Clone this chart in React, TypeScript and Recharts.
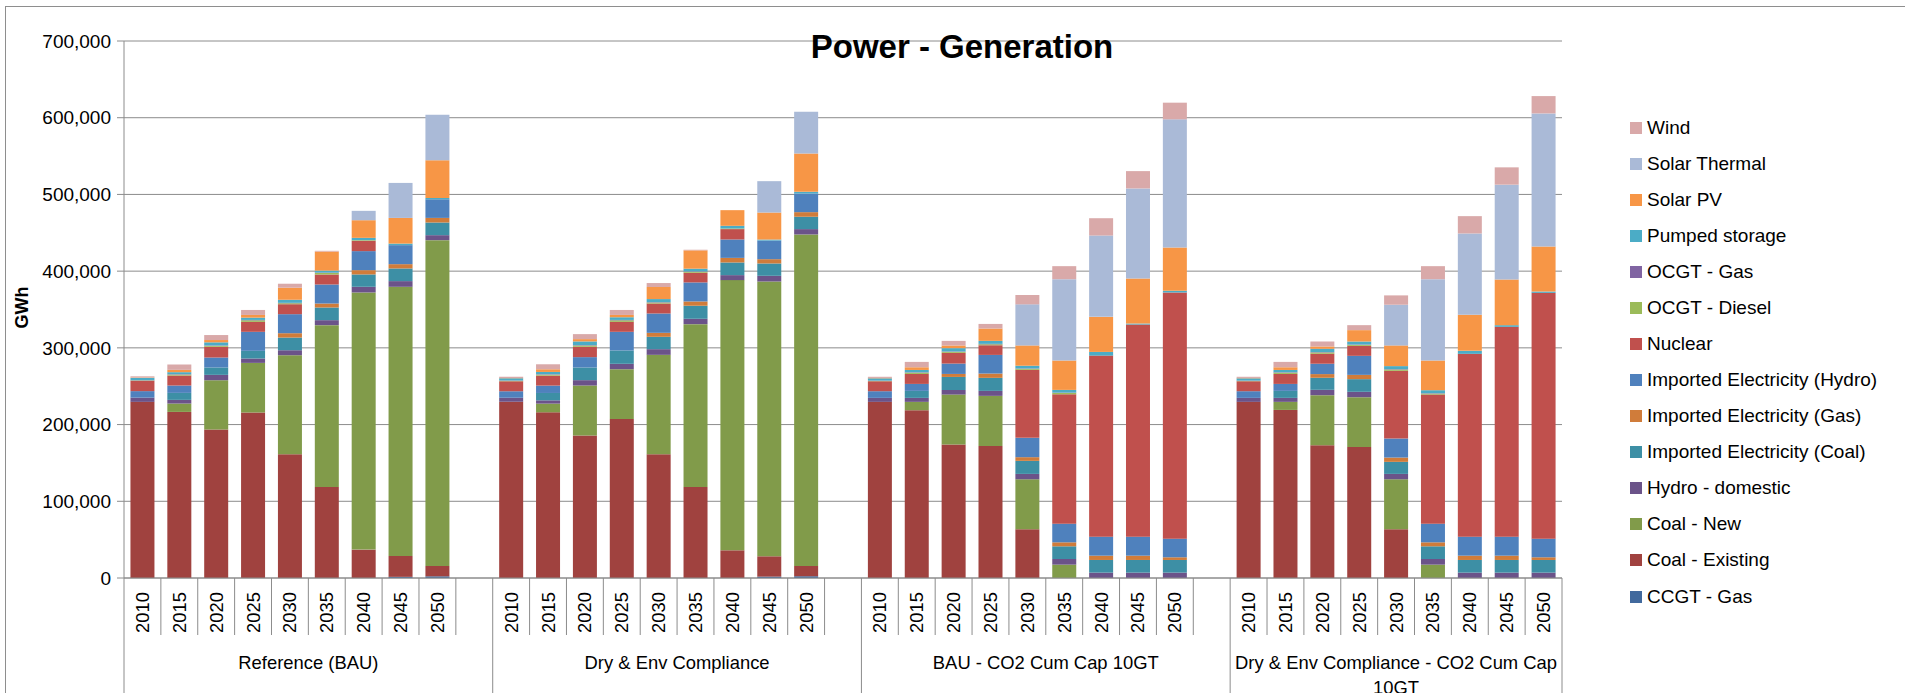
import { BarChart, Bar, XAxis, YAxis, CartesianGrid } from 'recharts';

const years = ['2010', '2015', '2020', '2025', '2030', '2035', '2040', '2045', '2050'];

const scenarioLabels = [
  ['Reference (BAU)'],
  ['Dry & Env Compliance'],
  ['BAU - CO2 Cum Cap 10GT'],
  ['Dry & Env Compliance - CO2 Cum Cap', '10GT'],
];

// stacking order, bottom to top
const seriesNames = [
  'CCGT - Gas',
  'Coal - Existing',
  'Coal - New',
  'Hydro - domestic',
  'Imported Electricity (Coal)',
  'Imported Electricity (Gas)',
  'Imported Electricity (Hydro)',
  'Nuclear',
  'OCGT - Diesel',
  'OCGT - Gas',
  'Pumped storage',
  'Solar PV',
  'Solar Thermal',
  'Wind',
];

const seriesColors = [
  '#41699d', '#a0423f', '#819b4a', '#6b5389', '#3d8fa5', '#d07c3a', '#4f81bd',
  '#c0504d', '#9bbb59', '#8064a2', '#4bacc6', '#f79646', '#aabad7', '#d9a9a9',
];

// GWh, 9 years per scenario: Reference, Dry & Env, BAU CO2 cap, Dry & Env CO2 cap
const ccgtGas = [
  0, 0, 0, 0, 0, 0, 0, 1500, 2200,
  0, 0, 0, 0, 0, 0, 0, 1800, 2300,
  0, 0, 0, 0, 0, 0, 0, 0, 0,
  0, 0, 0, 0, 0, 0, 0, 0, 0,
];
const coalExisting = [
  229600, 216500, 193500, 215700, 161300, 118700, 37000, 27200, 13500,
  229600, 216000, 185700, 207400, 161300, 118700, 36100, 26500, 13400,
  229600, 218700, 173900, 172200, 63500, 0, 0, 0, 0,
  229600, 219100, 173000, 170900, 63500, 0, 0, 0, 0,
];
const coalNew = [
  0, 10900, 64300, 64700, 129100, 210900, 335200, 350900, 424700,
  0, 11300, 65200, 64800, 129600, 212200, 352200, 358200, 432100,
  0, 10900, 65200, 65200, 65200, 17400, 0, 0, 0,
  0, 10500, 65300, 64800, 65200, 17400, 0, 0, 0,
];
const hydroDomestic = [
  5500, 4800, 7000, 5700, 6500, 6500, 7400, 7400, 6500,
  5200, 4300, 7000, 7000, 7400, 7000, 6500, 7400, 7000,
  5200, 5200, 6000, 6500, 7000, 7400, 7000, 7000, 7000,
  5200, 5200, 7000, 7000, 7000, 7400, 7000, 7000, 7000,
];
const importedCoal = [
  0, 9100, 9600, 10000, 16500, 16500, 16100, 16500, 16500,
  0, 9600, 16500, 17400, 16100, 17000, 16500, 16100, 16100,
  0, 9100, 17000, 17000, 17000, 16500, 16500, 16500, 16500,
  0, 9100, 15700, 16500, 15700, 16500, 16500, 16500, 16500,
];
const importedGas = [
  0, 0, 0, 0, 5700, 5200, 5600, 5600, 6000,
  0, 0, 0, 0, 5200, 5600, 6000, 5600, 6000,
  0, 0, 3900, 5600, 4800, 5200, 5600, 5600, 3500,
  0, 0, 4800, 5600, 5600, 5200, 5600, 5600, 3500,
];
const importedHydro = [
  8500, 9600, 13000, 24800, 24800, 24800, 24800, 24800, 24300,
  8700, 9600, 13500, 24300, 25200, 24800, 24000, 24300, 24300,
  8700, 9100, 13500, 24300, 25200, 24300, 24800, 24800, 24300,
  8700, 9100, 13500, 24800, 24800, 24300, 24800, 24800, 24300,
];
const nuclear = [
  13500, 13000, 14000, 13000, 13000, 13000, 13500, 0, 0,
  13000, 13000, 13500, 13000, 13000, 12600, 13500, 0, 0,
  13000, 13000, 14000, 12600, 88700, 168700, 236000, 276500, 320900,
  13000, 13000, 13000, 13000, 88300, 168300, 238300, 273500, 320400,
];
const ocgtDiesel = [
  500, 1300, 1300, 2000, 1300, 2000, 800, 0, 0,
  500, 1300, 1700, 2000, 1300, 1300, 800, 0, 0,
  500, 1700, 1300, 1300, 1300, 1700, 0, 0, 0,
  500, 1700, 1700, 1300, 1700, 1300, 0, 0, 0,
];
const ocgtGas = [
  300, 500, 500, 500, 500, 500, 0, 0, 0,
  300, 500, 500, 500, 500, 500, 0, 0, 0,
  300, 500, 500, 500, 500, 500, 0, 0, 0,
  300, 500, 500, 500, 500, 500, 0, 0, 0,
];
const pumpedStorage = [
  3000, 2600, 4000, 3000, 4000, 2600, 3000, 2000, 1700,
  3000, 3000, 4800, 3500, 4000, 3500, 3500, 1300, 2200,
  3000, 3000, 4300, 3900, 3500, 3500, 4800, 1300, 2200,
  3000, 3000, 4300, 3900, 3900, 3900, 3900, 2200, 1700,
];
const solarPV = [
  500, 3000, 3000, 3500, 15700, 24800, 23000, 33500, 49000,
  500, 3500, 3000, 3000, 15700, 23900, 20400, 35200, 50000,
  500, 3500, 3500, 16100, 26500, 38300, 45700, 58700, 56500,
  500, 3500, 3000, 14800, 27000, 38700, 47000, 59600, 58700,
];
const solarThermal = [
  0, 0, 0, 0, 0, 0, 12200, 45600, 59600,
  0, 0, 0, 0, 0, 0, 0, 40900, 54300,
  0, 0, 0, 0, 53500, 106000, 106000, 117400, 167000,
  0, 0, 0, 0, 53000, 106000, 106000, 123500, 173500,
];
const wind = [
  1500, 7000, 6500, 6500, 5200, 1000, 0, 0, 0,
  1500, 6500, 6500, 6500, 5200, 800, 0, 0, 0,
  1500, 7000, 6000, 6000, 12200, 17000, 22600, 22600, 21700,
  1500, 7000, 6500, 6500, 12200, 17000, 22600, 22600, 22600,
];

const seriesValues = [
  ccgtGas, coalExisting, coalNew, hydroDomestic, importedCoal, importedGas, importedHydro,
  nuclear, ocgtDiesel, ocgtGas, pumpedStorage, solarPV, solarThermal, wind,
];

const yTicks = [0, 100000, 200000, 300000, 400000, 500000, 600000, 700000];

type Row = { key: string; year: string; group: number; first: boolean; [k: string]: any };

const rows: Row[] = [];
scenarioLabels.forEach((_, g) => {
  years.forEach((yr, i) => {
    const row: Row = { key: `${g}-${yr}`, year: yr, group: g, first: i === 0 };
    seriesNames.forEach((name, s) => {
      row[name] = seriesValues[s][g * years.length + i];
    });
    rows.push(row);
  });
  // empty slot between scenarios
  if (g < scenarioLabels.length - 1) rows.push({ key: `${g}-gap`, year: '', group: g, first: false });
});

const rowByKey: Record<string, Row> = {};
rows.forEach((r) => (rowByKey[r.key] = r));

const FONT = "'Liberation Sans', Arial, sans-serif";
const GREY = '#8c8c8c';

function CategoryTick(props: any) {
  const { x, y, payload } = props;
  const row = rowByKey[payload.value];
  if (!row) return null;
  const half = payload.offset || 18.4;
  const left = x - half;
  const isLast = row.key === rows[rows.length - 1].key;
  const groupSize = rows.filter((r) => r.group === row.group).length;
  return (
    <g>
      <line x1={left} x2={left} y1={y} y2={row.first ? y + 200 : y + 57} stroke={GREY} />
      {isLast && <line x1={x + half} x2={x + half} y1={y} y2={y + 200} stroke={GREY} />}
      {row.year && (
        <text
          x={x}
          y={y + 14}
          transform={`rotate(-90, ${x}, ${y + 14})`}
          textAnchor="end"
          dominantBaseline="central"
          fontSize={18.4}
          fill="#000"
        >
          {row.year}
        </text>
      )}
      {row.first &&
        scenarioLabels[row.group].map((line, i) => (
          <text
            key={line}
            x={left + groupSize * half}
            y={y + 84 + i * 25}
            textAnchor="middle"
            dominantBaseline="central"
            fontSize={18.4}
            fill="#000"
          >
            {line}
          </text>
        ))}
    </g>
  );
}

function YLabel(props: any) {
  const vb = props.viewBox || { x: 0, y: 41, width: 124, height: 537 };
  const cx = 22;
  const cy = vb.y + vb.height / 2 - 2;
  return (
    <text
      x={cx}
      y={cy}
      transform={`rotate(-90, ${cx}, ${cy})`}
      textAnchor="middle"
      dominantBaseline="central"
      fontSize={18}
      fontWeight="bold"
      fill="#000"
    >
      GWh
    </text>
  );
}

export default function App() {
  const legendItems = seriesNames.map((name, i) => ({ name, color: seriesColors[i] })).reverse();
  return (
    <div
      style={{
        position: 'absolute',
        left: 0,
        top: 0,
        width: 1905,
        height: 693,
        overflow: 'hidden',
        background: '#fff',
        fontFamily: FONT,
      }}
    >
      <div
        style={{
          position: 'absolute',
          left: 5,
          top: 6,
          width: 1910,
          height: 700,
          borderTop: '1px solid #8e8e8e',
          borderLeft: '1px solid #8e8e8e',
        }}
      />
      <BarChart
        width={1905}
        height={720}
        data={rows}
        margin={{ top: 41, right: 343, bottom: 0, left: 0 }}
        barCategoryGap="17.5%"
        style={{ fontFamily: FONT }}
      >
        <CartesianGrid vertical={false} stroke={GREY} strokeWidth={1} />
        <XAxis
          dataKey="key"
          height={142}
          interval={0}
          tickSize={0}
          tickMargin={0}
          tickLine={false}
          axisLine={{ stroke: GREY }}
          tick={<CategoryTick />}
        />
        <YAxis
          width={124}
          domain={[0, 700000]}
          ticks={yTicks}
          interval={0}
          tickSize={7}
          tickMargin={6}
          axisLine={{ stroke: GREY }}
          tickLine={{ stroke: GREY }}
          tick={{ fontSize: 19, fill: '#000' }}
          tickFormatter={(v: number) => v.toLocaleString('en-US')}
          label={<YLabel />}
        />
        {seriesNames.map((name, i) => (
          <Bar key={name} dataKey={name} stackId="gen" fill={seriesColors[i]} isAnimationActive={false} />
        ))}
      </BarChart>
      <div
        style={{
          position: 'absolute',
          left: 0,
          top: 30,
          width: 1924,
          textAlign: 'center',
          fontSize: 33,
          lineHeight: '33px',
          fontWeight: 'bold',
          color: '#000',
          pointerEvents: 'none',
        }}
      >
        Power - Generation
      </div>
      <div style={{ position: 'absolute', left: 1630, top: 110.3 }}>
        {legendItems.map((item) => (
          <div key={item.name} style={{ height: 36.03, display: 'flex', alignItems: 'center' }}>
            <span style={{ width: 12, height: 12, background: item.color, marginRight: 5, flex: 'none' }} />
            <span style={{ fontSize: 19, color: '#000', whiteSpace: 'nowrap' }}>{item.name}</span>
          </div>
        ))}
      </div>
    </div>
  );
}
